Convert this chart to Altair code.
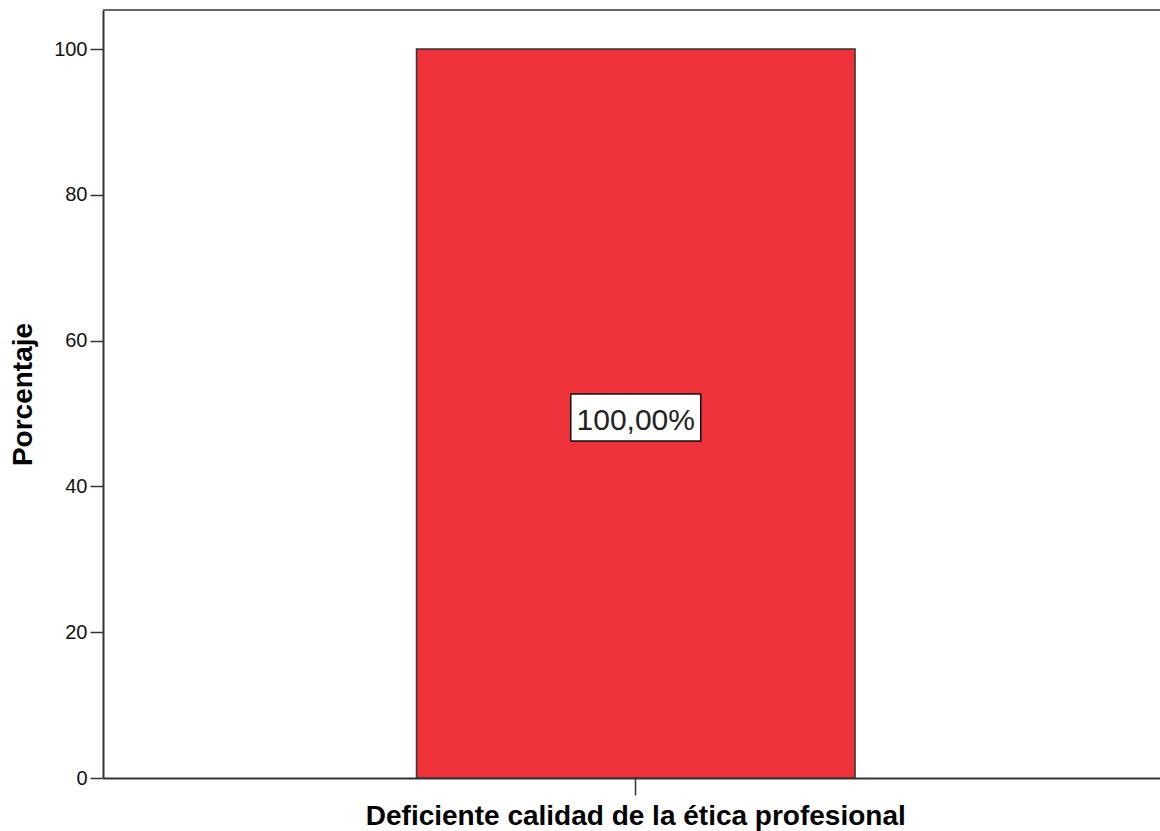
import altair as alt
import pandas as pd

categories = ["Deficiente calidad de la ética profesional"]
percentages = [100.0]
label_texts = ["100,00%"]
label_positions = [50.0]
y_ticks = [0, 20, 40, 60, 80, 100]

df = pd.DataFrame({"cat": categories, "pct": percentages,
                   "label": label_texts, "pos": label_positions})

W, H = 1057, 768
FONT = "Liberation Sans"

x_enc = alt.X(
    "cat:N",
    scale=alt.Scale(paddingInner=0, paddingOuter=0.7052, align=0.5069),
    axis=alt.Axis(title=None, labelAngle=0, labelFont=FONT, labelFontSize=28,
                  labelFontWeight="bold", labelColor="#000", labelLimit=0,
                  labelPadding=7, tickSize=17, tickWidth=1.5, tickColor="#333",
                  domainColor="#333", domainWidth=2),
)
y_enc = alt.Y(
    "pct:Q",
    scale=alt.Scale(domain=[0, 105.35], nice=False, zero=True),
    axis=alt.Axis(values=y_ticks, title="Porcentaje", titleFont=FONT,
                  titleFontSize=28, titleFontWeight="bold", titleColor="#000",
                  titlePadding=16, labelFont=FONT, labelFontSize=20,
                  labelColor="#111", labelPadding=3, tickSize=13, tickWidth=1.5,
                  tickColor="#333", domainColor="#333", domainWidth=2, grid=False),
)

bars = alt.Chart(df).mark_bar(color="#EE3239", stroke="#333", strokeWidth=1.5).encode(
    x=x_enc, y=y_enc
)

box = alt.Chart(df).mark_point(
    shape="M-1,-0.3615L1,-0.3615L1,0.3615L-1,0.3615Z",
    size=130 * 130, filled=True, fill="white", stroke="#111",
    strokeWidth=1.5, opacity=1, yOffset=4,
).encode(x=alt.X("cat:N"), y=alt.Y("pos:Q"))

text = alt.Chart(df).mark_text(
    font=FONT, fontSize=30, baseline="alphabetic", align="center",
    dy=16.5, color="#222",
).encode(x=alt.X("cat:N"), y=alt.Y("pos:Q"), text="label:N")

top_line = alt.Chart(df).mark_rule(color="#666", strokeWidth=2).encode(
    x=alt.value(0), x2=alt.value(W), y=alt.value(0)
)

chart = alt.layer(bars, box, text, top_line).properties(
    width=W, height=H,
    autosize=alt.AutoSizeParams(type="none"),
    padding={"left": 103, "top": 10, "right": 0, "bottom": 53},
    background="white",
).configure_view(stroke=None)

chart.save("out.html", embed_options={"renderer": "svg", "actions": False})
